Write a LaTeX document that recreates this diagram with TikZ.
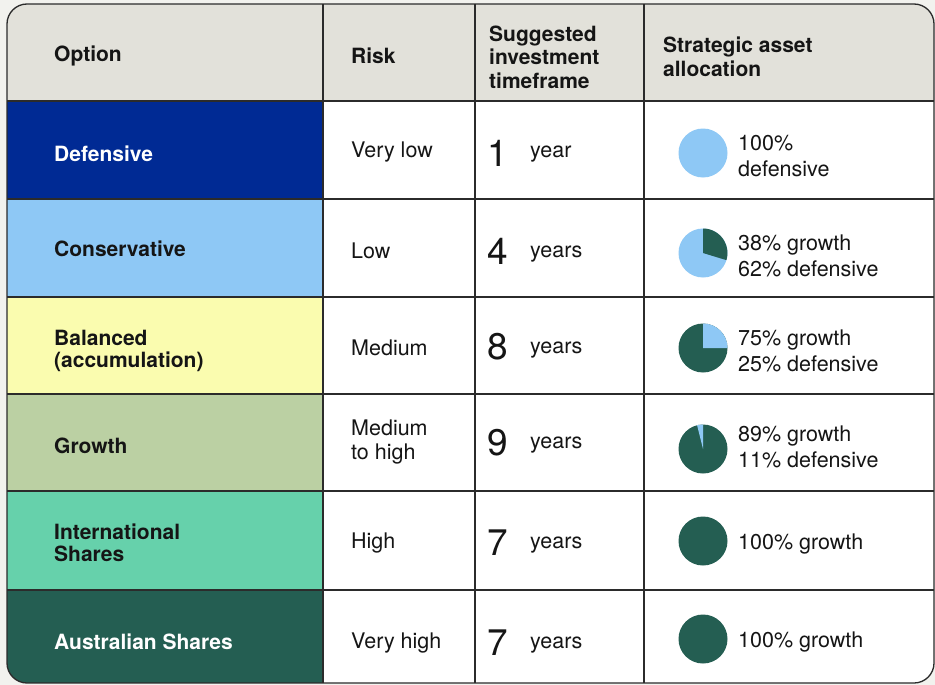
\documentclass[tikz,border=0pt]{standalone}
\usepackage{fontspec}
\setmainfont{TeX Gyre Heros}
\usepackage{xcolor}
\usepackage{tikz}
\usetikzlibrary{positioning}
\definecolor{bgcol}{HTML}{F2F2EE}
\definecolor{headcol}{HTML}{E2E1DA}
\definecolor{defcol}{HTML}{002A94}
\definecolor{concol}{HTML}{8EC8F5}
\definecolor{balcol}{HTML}{FAFCAF}
\definecolor{grocol}{HTML}{BBD0A3}
\definecolor{intcol}{HTML}{66D1AB}
\definecolor{auscol}{HTML}{245E52}
\definecolor{rulecol}{HTML}{2B2B2B}
\definecolor{txtcol}{HTML}{151515}
\tikzset{
    tnode/.style = {align=left, inner sep=0pt, anchor=west, yshift=-2pt, text=txtcol, font=\fontsize{21.5}{23.5}\selectfont},
    head/.style = {tnode, font=\fontsize{21}{23.5}\selectfont\bfseries},
    opt/.style = {tnode, font=\fontsize{21}{21.5}\selectfont\bfseries},
    optw/.style = {opt, text=white},
    num/.style = {tnode, font=\fontsize{37}{40}\selectfont},
    alloc/.style = {tnode, font=\fontsize{21.5}{26}\selectfont},
    rule/.style = {draw=rulecol, line width=1.3pt}
}

\begin{document}
\begin{tikzpicture}[x=1pt, y=-1pt]
    \fill[bgcol] (0,0) rectangle (935,685);
    \useasboundingbox (0,0) rectangle (935,685);

    \begin{scope}
        \clip[rounded corners=20pt] (7,4) rectangle (934,683);
        \fill[white] (7,4) rectangle (934,683);
        \fill[headcol] (7,4) rectangle (934,101);
        \fill[defcol] (7,101) rectangle (323,199);
        \fill[concol] (7,199) rectangle (323,297);
        \fill[balcol] (7,297) rectangle (323,394);
        \fill[grocol] (7,394) rectangle (323,491);
        \fill[intcol] (7,491) rectangle (323,590);
        \fill[auscol] (7,590) rectangle (323,683);
        \foreach \y in {101,199,297,394,491,590}
            \draw[rule] (7,\y) -- (934,\y);
        \foreach \x in {323,475,644}
            \draw[rule] (\x,4) -- (\x,683);
    \end{scope}
    \draw[rule, rounded corners=20pt] (7,4) rectangle (934,683);

    % header
    \node[head] (hOption) at (54,54) {Option};
    \node[head] (hRisk) at (351,54) {Risk};
    \node[head] (hTime) at (489,55) {Suggested\\investment\\timeframe};
    \node[head] (hAlloc) at (663,55) {Strategic asset\\allocation};

    % option column
    \node[optw] (o1) at (54,152) {Defensive};
    \node[opt] (o2) at (54,247) {Conservative};
    \node[opt] (o3) at (54,349) {Balanced\\(accumulation)};
    \node[opt] (o4) at (54,444) {Growth};
    \node[opt] (o5) at (54,541) {International\\Shares};
    \node[optw] (o6) at (54,640) {Australian Shares};

    % risk column
    \node[tnode] (r1) at (351,150) {Very low};
    \node[tnode] (r2) at (351,249) {Low};
    \node[tnode] (r3) at (351,346) {Medium};
    \node[tnode] (r4) at (351,440) {Medium\\to high};
    \node[tnode] (r5) at (351,541) {High};
    \node[tnode] (r6) at (351,641) {Very high};

    % timeframe column
    \node[num] (n1) at (487,151) {1};
    \node[num] (n2) at (487,249) {4};
    \node[num] (n3) at (487,345) {8};
    \node[num] (n4) at (487,441) {9};
    \node[num] (n5) at (487,541) {7};
    \node[num] (n6) at (487,641) {7};
    \node[tnode] (y1) at (530,152) {year};
    \node[tnode] (y2) at (530,252) {years};
    \node[tnode] (y3) at (530,348) {years};
    \node[tnode] (y4) at (530,443) {years};
    \node[tnode] (y5) at (530,543) {years};
    \node[tnode] (y6) at (530,643) {years};

    % allocation pies
    \fill[concol] (703,153) circle (24.5);
    \fill[concol] (703,253) circle (24.5);
    \fill[auscol] (703,253) -- ++(-90:24.5) arc[start angle=-90, end angle=17, radius=24.5] -- cycle;
    \fill[auscol] (703,348) circle (24.5);
    \fill[concol] (703,348) -- ++(0:24.5) arc[start angle=0, end angle=-90, radius=24.5] -- cycle;
    \fill[auscol] (703,449) circle (24.5);
    \fill[concol] (703,449) -- ++(-90:24.5) arc[start angle=-90, end angle=-104, radius=24.5] -- cycle;
    \fill[auscol] (703,541) circle (24.5);
    \fill[auscol] (703,639) circle (24.5);

    \node[alloc] (a1) at (738,154) {100\%\\defensive};
    \node[alloc] (a2) at (738,254) {38\% growth\\62\% defensive};
    \node[alloc] (a3) at (738,349) {75\% growth\\25\% defensive};
    \node[alloc] (a4) at (738,445) {89\% growth\\11\% defensive};
    \node[alloc] (a5) at (738,542) {100\% growth};
    \node[alloc] (a6) at (738,640) {100\% growth};
\end{tikzpicture}
\end{document}
